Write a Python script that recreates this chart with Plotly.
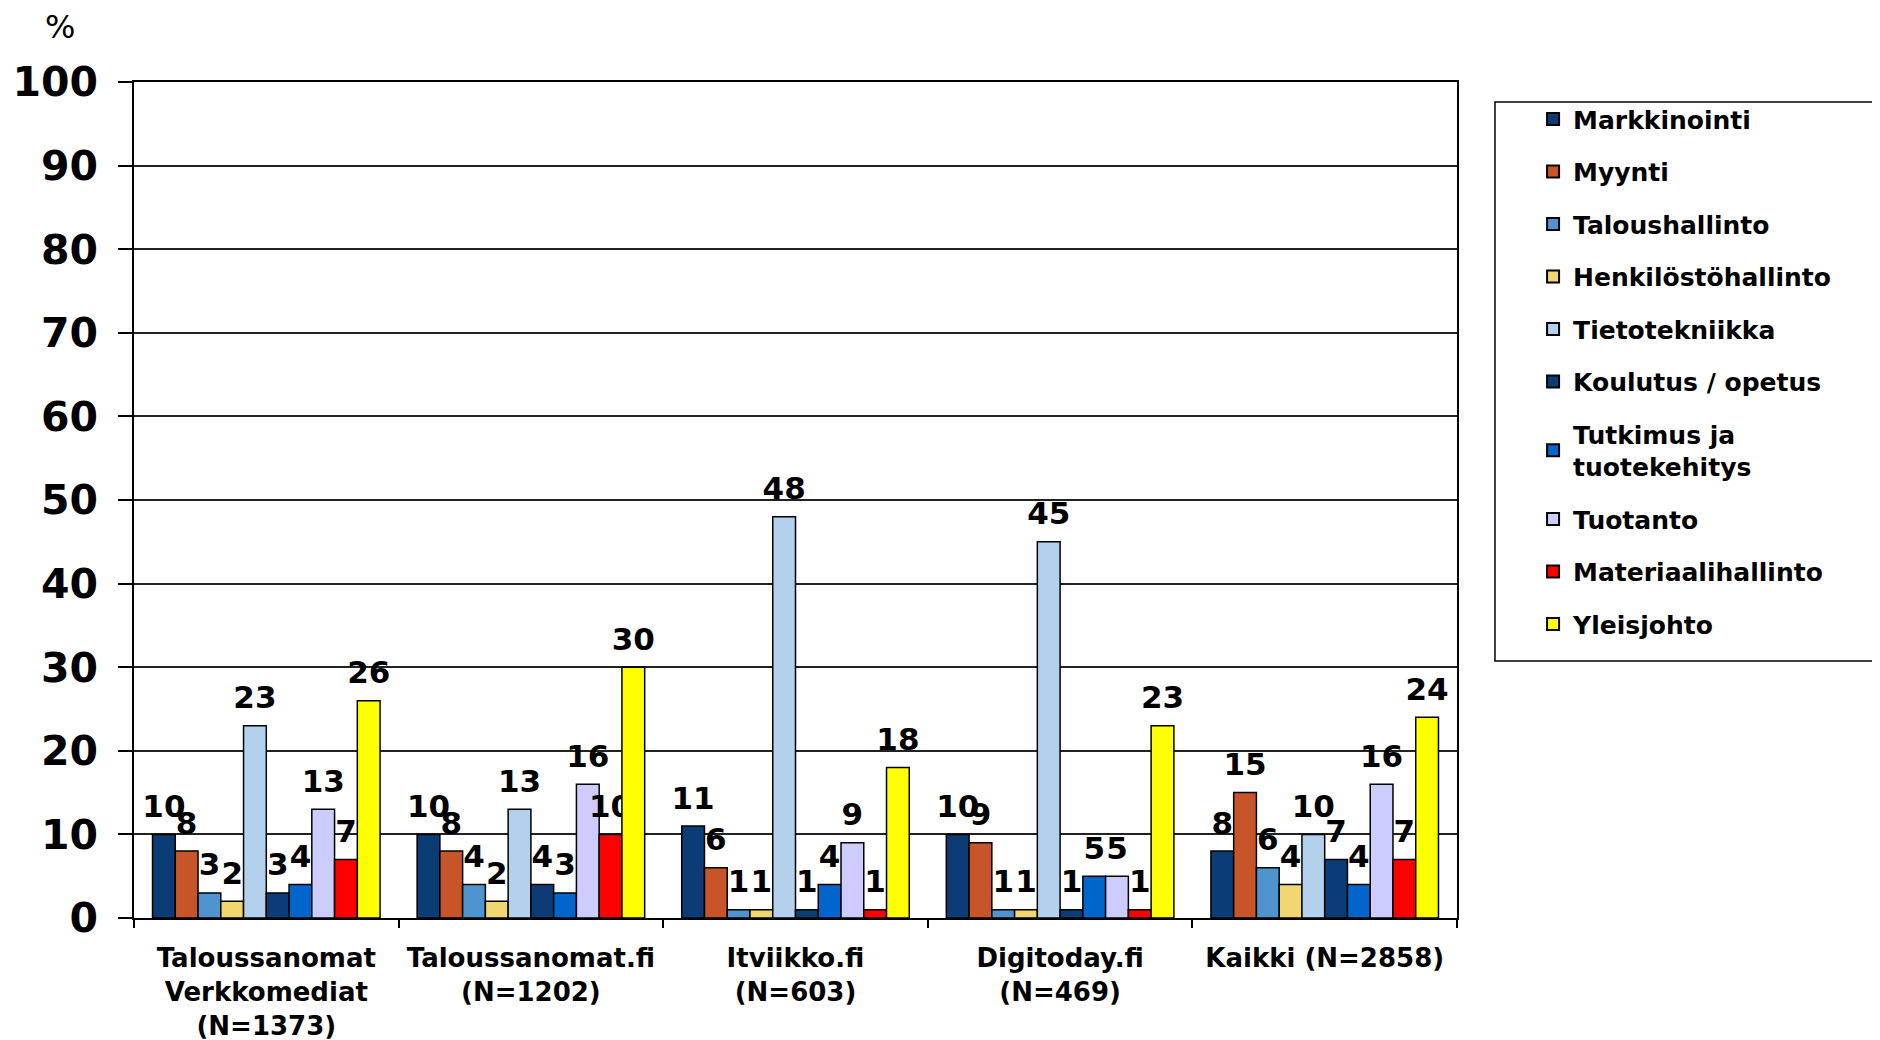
import plotly.graph_objects as go

categories = [
    "Taloussanomat<br>Verkkomediat<br>(N=1373)",
    "Taloussanomat.fi<br>(N=1202)",
    "Itviikko.fi<br>(N=603)",
    "Digitoday.fi<br>(N=469)",
    "Kaikki (N=2858)",
]

series_names = [
    "Markkinointi", "Myynti", "Taloushallinto", "Henkilöstöhallinto",
    "Tietotekniikka", "Koulutus / opetus", "Tutkimus ja<br>tuotekehitys",
    "Tuotanto", "Materiaalihallinto", "Yleisjohto",
]

markkinointi = [10, 10, 11, 10, 8]
myynti = [8, 8, 6, 9, 15]
taloushallinto = [3, 4, 1, 1, 6]
henkilosto = [2, 2, 1, 1, 4]
tietotekniikka = [23, 13, 48, 45, 10]
koulutus = [3, 4, 1, 1, 7]
tutkimus = [4, 3, 4, 5, 4]
tuotanto = [13, 16, 9, 5, 16]
materiaali = [7, 10, 1, 1, 7]
yleisjohto = [26, 30, 18, 23, 24]

series_values = [markkinointi, myynti, taloushallinto, henkilosto, tietotekniikka,
                 koulutus, tutkimus, tuotanto, materiaali, yleisjohto]

colors = ["#0B3C75", "#C8552A", "#4F93CF", "#F2D670", "#B3D1EC",
          "#0B3C75", "#0066CC", "#CCCCFF", "#FF0000", "#FFFF00"]

FONT = "DejaVu Sans"
LABEL_LIFT = 0.9  # gap (in axis units) between bar top and its value label

fig = go.Figure()
for i, (name, vals, col) in enumerate(zip(series_names, series_values, colors)):
    fig.add_trace(go.Bar(
        name=name, x=categories, y=vals, offsetgroup=str(i),
        marker=dict(color=col, line=dict(color="#000000", width=1.5)),
        legendgroup=f"g{i}",
    ))
    # transparent spacer bar on top of each bar that carries the value label
    fig.add_trace(go.Bar(
        x=categories, y=[LABEL_LIFT] * len(vals), base=vals, offsetgroup=str(i),
        marker=dict(color="rgba(0,0,0,0)", line=dict(width=0)),
        text=[str(v) for v in vals], textposition="outside",
        textfont=dict(family=FONT, size=31, color="#000000", weight="bold"),
        constraintext="none", cliponaxis=False,
        showlegend=False, hoverinfo="skip", legendgroup=f"g{i}",
    ))

fig.update_layout(
    width=1880, height=1040,
    paper_bgcolor="white", plot_bgcolor="white",
    barmode="group", bargap=0.14, bargroupgap=0,
    margin=dict(l=126, r=431, t=74, b=130, autoexpand=False),
    font=dict(family=FONT, color="#000000"),
    legend=dict(
        x=1.0575, y=0.983, xanchor="left", yanchor="top",
        borderwidth=0, bgcolor="rgba(0,0,0,0)",
        font=dict(family=FONT, size=25, color="#000000", weight="bold"),
        tracegroupgap=17, itemsizing="constant",
    ),
    xaxis=dict(
        showline=True, linecolor="#000000", linewidth=1.5, mirror=True,
        ticks="outside", tickson="boundaries", ticklen=8, tickcolor="#000000",
        tickwidth=1.5, ticklabelstandoff=16,
        tickfont=dict(family=FONT, size=26, color="#000000", weight="bold"),
        showgrid=False,
    ),
    yaxis=dict(
        range=[0, 100], dtick=10, tick0=0,
        showline=True, linecolor="#000000", linewidth=1.5, mirror=True,
        ticks="outside", ticklen=14, tickcolor="#000000", tickwidth=1.5,
        ticklabelstandoff=12,
        tickfont=dict(family=FONT, size=41, color="#000000", weight="bold"),
        showgrid=True, gridcolor="#222222", gridwidth=1.5,
        zeroline=False,
    ),
    shapes=[dict(
        type="rect", xref="paper", yref="paper",
        x0=1.0287, x1=1.3167, y0=0.3074, y1=0.976,
        line=dict(color="#000000", width=1.5), fillcolor="rgba(0,0,0,0)",
    )],
    annotations=[dict(
        text="%", xref="paper", yref="paper", x=-0.0559, y=1.066,
        xanchor="center", yanchor="middle", showarrow=False,
        font=dict(family=FONT, size=32, color="#000000"),
    )],
)

fig.write_html("out.html")
